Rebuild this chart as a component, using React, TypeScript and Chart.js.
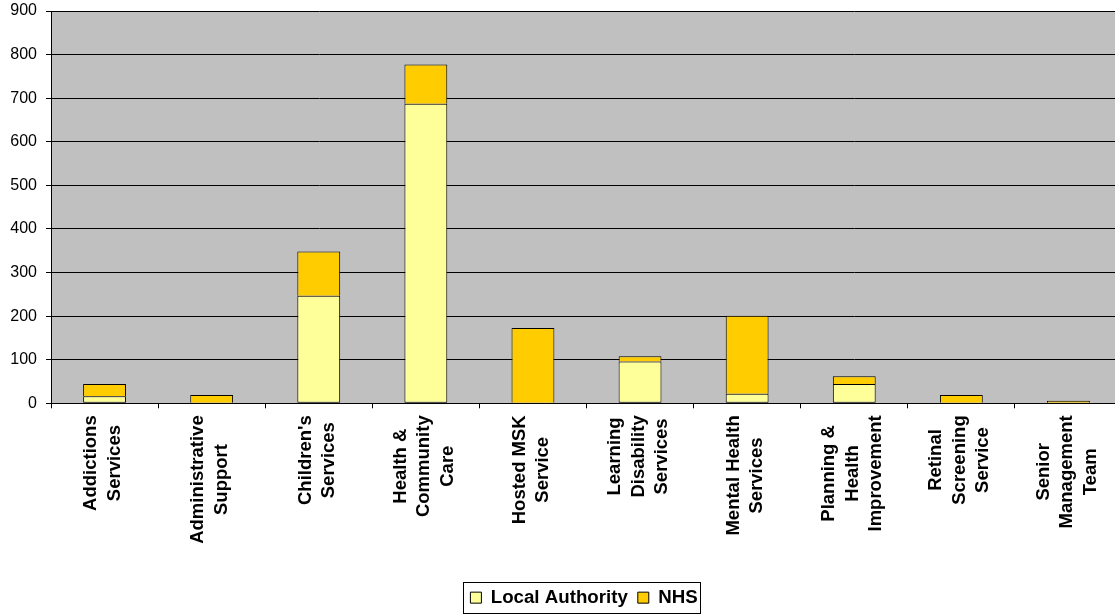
import React, { useEffect, useRef } from "react";
import { Chart, registerables } from "chart.js";

Chart.register(...registerables);

const categories: string[][] = [
  ["Addictions", "Services"],
  ["Administrative", "Support"],
  ["Children's", "Services"],
  ["Health &", "Community", "Care"],
  ["Hosted MSK", "Service"],
  ["Learning", "Disability", "Services"],
  ["Mental Health", "Services"],
  ["Planning &", "Health", "Improvement"],
  ["Retinal", "Screening", "Service"],
  ["Senior", "Management", "Team"],
];

const localAuthority = [16, 0, 247, 687, 0, 96, 22, 44, 0, 0];
const nhs = [28, 19, 101, 90, 173, 12, 179, 18, 19, 6];

const yMin = 0;
const yMax = 900;
const yStep = 100;

const FONT = '"Liberation Sans", Arial, sans-serif';

export default function App() {
  const ref = useRef<HTMLCanvasElement>(null);

  useEffect(() => {
    const canvas = ref.current;
    if (!canvas) return;

    const plotBg = {
      id: "plotBg",
      beforeDraw(chart: any) {
        const { ctx, chartArea: a } = chart;
        ctx.save();
        ctx.fillStyle = "#C0C0C0";
        ctx.fillRect(a.left, a.top, a.right - a.left, a.bottom - a.top);
        ctx.restore();
      },
    };

    const legendShift = {
      id: "legendShift",
      afterLayout(chart: any) {
        const lg = chart.legend;
        if (!lg) return;
        lg.left += 23;
        lg.right += 23;
        lg.top += 2;
        lg.bottom += 2;
      },
    };

    const xLabels = {
      id: "xLabels",
      afterDraw(chart: any) {
        const ctx = chart.ctx;
        const xs = chart.scales.x;
        ctx.save();
        ctx.font = `bold 18.5px ${FONT}`;
        ctx.fillStyle = "#000";
        ctx.textAlign = "center";
        ctx.textBaseline = "middle";
        (chart.data.labels as string[][]).forEach((lines, i) => {
          const x = xs.getPixelForValue(i);
          const maxW = Math.max(...lines.map((l) => ctx.measureText(l).width));
          const cy = xs.top + 12 + maxW / 2;
          const n = lines.length;
          lines.forEach((line, j) => {
            ctx.save();
            ctx.translate(x - 1.5 + (j - (n - 1) / 2) * 23.5, cy);
            ctx.rotate(-Math.PI / 2);
            ctx.fillText(line, 0, 0);
            ctx.restore();
          });
        });
        ctx.restore();
      },
    };

    const legendBorder = {
      id: "legendBorder",
      afterDraw(chart: any) {
        const lg = chart.legend;
        const hb = lg && lg.legendHitBoxes;
        if (!hb || !hb.length) return;
        const left = Math.min(...hb.map((h: any) => h.left));
        const right = Math.max(...hb.map((h: any) => h.left + h.width));
        const mid = hb[0].top + hb[0].height / 2;
        const ctx = chart.ctx;
        ctx.save();
        ctx.strokeStyle = "#000";
        ctx.lineWidth = 1;
        ctx.strokeRect(Math.round(left - 7) + 0.5, Math.round(mid - 15.5) + 0.5, Math.round(right - left + 10), 31);
        ctx.restore();
      },
    };

    const chart = new Chart(canvas, {
      type: "bar",
      data: {
        labels: categories as any,
        datasets: [
          {
            label: "Local Authority",
            data: localAuthority,
            backgroundColor: "#FFFF99",
            borderColor: "#000",
            borderWidth: 1,
            borderSkipped: false,
          },
          {
            label: "NHS",
            data: nhs,
            backgroundColor: "#FFCC00",
            borderColor: "#000",
            borderWidth: 1,
            borderSkipped: "start",
          },
        ],
      },
      options: {
        responsive: false,
        animation: false,
        devicePixelRatio: 1,
        layout: { padding: { top: 11, left: 0, right: 0, bottom: 0 } },
        datasets: { bar: { barPercentage: 0.4, categoryPercentage: 1 } } as any,
        plugins: {
          legend: {
            position: "bottom",
            labels: {
              font: { family: FONT, size: 18.7, weight: "bold" },
              color: "#000",
              boxWidth: 11,
              boxHeight: 11,
              padding: 10,
            },
          },
          tooltip: { enabled: false },
        },
        scales: {
          x: {
            stacked: true,
            grid: { offset: true, drawOnChartArea: false, drawTicks: true, tickLength: 5, color: "#000" },
            border: { color: "#000", width: 1 },
            ticks: { display: false },
            afterFit: (s: any) => {
              s.height = 173;
              s.paddingLeft = 0;
              s.paddingRight = 0;
            },
          },
          y: {
            stacked: true,
            min: yMin,
            max: yMax,
            ticks: { stepSize: yStep, font: { family: FONT, size: 16 }, color: "#000", padding: 9 },
            grid: { color: "#000", tickLength: 5 },
            border: { color: "#000", width: 1 },
            afterFit: (s: any) => {
              s.width = 51;
              s.paddingTop = 0;
              s.paddingBottom = 0;
            },
          },
        },
      },
      plugins: [plotBg, legendShift, xLabels, legendBorder],
    });

    return () => chart.destroy();
  }, []);

  return (
    <div
      style={{
        position: "fixed",
        left: 0,
        top: 0,
        width: 1115,
        height: 615,
        overflow: "hidden",
        background: "#fff",
      }}
    >
      <canvas ref={ref} width={1122} height={615} style={{ display: "block", width: 1122, height: 615 }} />
    </div>
  );
}
